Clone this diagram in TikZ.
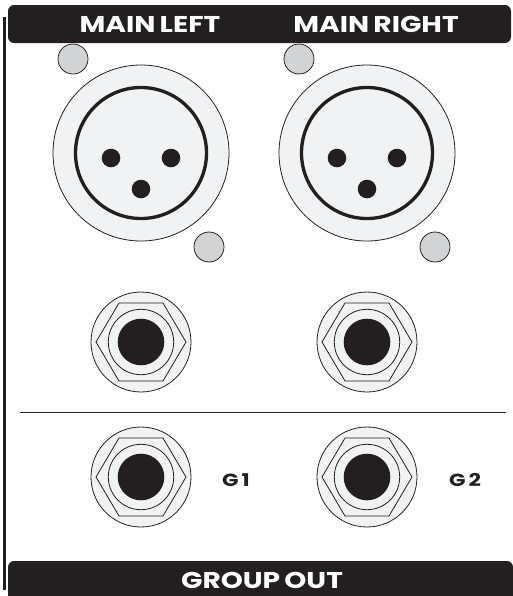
\documentclass[tikz,border=0pt]{standalone}
\usepackage{fontspec}
\setmainfont[WordSpace=0.7,FakeStretch=1.23]{Poppins}
\begin{document}
\begin{tikzpicture}[x=0.02cm,y=-0.02cm,
        plate/.style={fill=barblack,rounded corners=3.5pt},
        bartext/.style={text=white,font=\bfseries\fontsize{13}{13}\selectfont,inner sep=0pt},
        sidetext/.style={text=barblack,font=\bfseries\fontsize{10}{10}\selectfont,inner sep=0pt},
        thinline/.style={draw=barblack,line width=0.45pt}]
        % Define colors
        \definecolor{barblack}{RGB}{35, 31, 32}
        \definecolor{panel}{RGB}{241, 242, 243}
        \definecolor{screw}{RGB}{209, 211, 212}

        % Page size
        \useasboundingbox (0,0) rectangle (513,596);

        % --- Side rule ---
        \fill[barblack] (3,17) rectangle (6,590);

        % --- Top bar and bottom bar ---
        \fill[plate] (8,5) rectangle (511,43);
        \fill[plate] (8,561) -- (8,604) -- (513,604) -- (513,561) -- cycle;
        \node[bartext] (mainleft) at (150,24.5) {MAIN LEFT};
        \node[bartext] (mainright) at (376,24.5) {MAIN RIGHT};
        \node[bartext] (groupout) at (262,580) {GROUP OUT};

        % --- XLR sockets ---
        \foreach \x in {141, 367} {
            \draw[thinline,fill=panel] (\x,153) circle (88);
            \draw[barblack,line width=1.9pt] (\x,153) circle (65.5);
            % Pins
            \fill[barblack] (\x-30,158) circle (9.3);
            \fill[barblack] (\x+30,158) circle (9.3);
            \fill[barblack] (\x,189) circle (9.3);
            % Screws
            \draw[thinline,fill=screw] (\x-68,59) circle (15);
            \draw[thinline,fill=screw] (\x+68,247) circle (15);
        }

        % --- Jack sockets ---
        \foreach \x in {141, 367} {
            \foreach \y in {342, 477} {
                \draw[thinline,fill=panel] (\x,\y) circle (50);
                \draw[thinline] (\x-45,\y) -- (\x-22,\y-39) -- (\x+22,\y-39)
                    -- (\x+45,\y) -- (\x+22,\y+39) -- (\x-22,\y+39) -- cycle;
                \draw[thinline] (\x,\y) circle (32.7);
                \fill[barblack] (\x,\y) circle (23.3);
            }
        }

        % Divider
        \draw[thinline] (20,412) -- (506,412);

        % Group labels
        \node[sidetext] (gone) at (236,480) {G\,1};
        \node[sidetext] (gtwo) at (465,480) {G\,2};
    \end{tikzpicture}
\end{document}
